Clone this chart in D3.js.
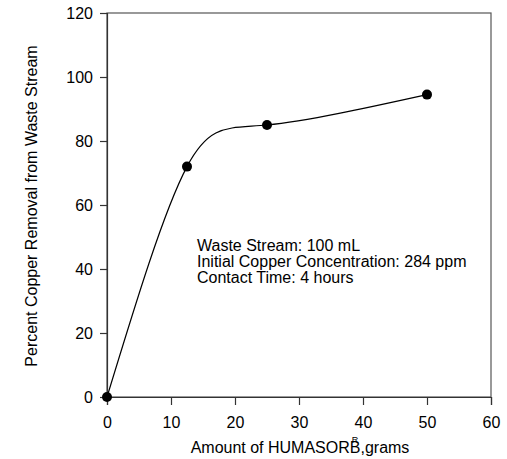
<!DOCTYPE html>
<html>
<head>
<meta charset="utf-8">
<script src="https://cdn.jsdelivr.net/npm/d3@7"></script>
<style>
  body { margin: 0; background: #fff; }
  text { font-family: "Liberation Sans", Arial, sans-serif; fill: #000; }
</style>
</head>
<body>
<svg id="chart" width="507" height="459"></svg>
<script>
// values
const amounts = [0, 12.5, 25, 50];
const removal = [0, 72, 85, 94.5];
const xTicks = [0, 10, 20, 30, 40, 50, 60];
const yTicks = [0, 20, 40, 60, 80, 100, 120];
const notes = ["Waste Stream: 100 mL", "Initial Copper Concentration: 284 ppm", "Contact Time: 4 hours"];

const svg = d3.select("#chart");
const plotLeft = 107, plotRight = 491, plotTop = 13, plotBottom = 397;

const x = d3.scaleLinear().domain([0, 60]).range([plotLeft, plotRight]);
const y = d3.scaleLinear().domain([0, 120]).range([plotBottom, plotTop]);

/* frame */
svg.append("rect")
    .attr("x", plotLeft).attr("y", plotTop)
    .attr("width", plotRight - plotLeft).attr("height", plotBottom - plotTop)
    .attr("fill", "none").attr("stroke", "#555").attr("stroke-width", 1.2);

/* axes */
const xAxis = svg.append("g")
    .attr("transform", `translate(0,${plotBottom})`)
    .call(d3.axisBottom(x).tickValues(xTicks).tickSize(8).tickPadding(12));
const yAxis = svg.append("g")
    .attr("transform", `translate(${plotLeft},0)`)
    .call(d3.axisLeft(y).tickValues(yTicks).tickSize(7).tickPadding(7));
[xAxis, yAxis].forEach(g => {
  g.select(".domain").attr("stroke", "#333").attr("stroke-width", 1.2);
  g.selectAll(".tick line").attr("stroke", "#333").attr("stroke-width", 1.2);
  g.selectAll(".tick text").attr("font-size", 16).attr("font-family", "Liberation Sans, Arial, sans-serif").attr("fill", "#000");
});

/* curve */
const pts = amounts.map((a, i) => [a, removal[i]]);
svg.append("path")
    .datum(pts)
    .attr("fill", "none")
    .attr("stroke", "#000")
    .attr("stroke-width", 1.2)
    .attr("d", d3.line().x(d => x(d[0])).y(d => y(d[1])).curve(d3.curveNatural));

svg.selectAll("circle.pt")
  .data(pts)
  .enter().append("circle")
    .attr("class", "pt")
    .attr("cx", d => x(d[0]))
    .attr("cy", d => y(d[1]))
    .attr("r", 5)
    .attr("fill", "#000");

/* annotation */
const note = svg.append("text").attr("font-size", 16);
notes.forEach((n, i) => {
  note.append("tspan").attr("x", 197).attr("y", 251 + i * 16).text(n);
});

/* axis labels */
const xl = svg.append("text")
    .attr("x", 300).attr("y", 453)
    .attr("text-anchor", "middle")
    .attr("font-size", 16);
xl.append("tspan").text("Amount of HUMASORB");
// registered mark sits over the B
xl.append("tspan").attr("font-size", 9).attr("dx", -8.6).attr("dy", -10).text("R");
xl.append("tspan").attr("dx", 2.1).attr("dy", 10).text(",grams");

svg.append("text")
    .attr("transform", `translate(37,206) rotate(-90)`)
    .attr("text-anchor", "middle")
    .attr("font-size", 16)
    .text("Percent Copper Removal from Waste Stream");
</script>
</body>
</html>
